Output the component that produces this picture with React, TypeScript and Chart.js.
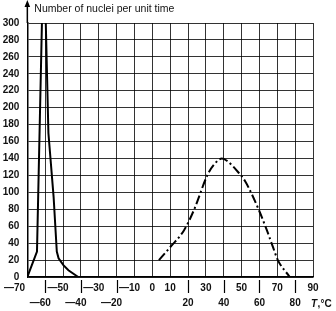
import React, { useEffect, useRef } from 'react';
import { Chart, registerables } from 'chart.js';

Chart.register(...registerables);

// Solid curve (left peak)
const solidT = [-70, -64.6, -60.8, -58.2, -55.3, -53.5, -52.5, -49.8, -47, -41.5];
const solidN = [0, 30, 400, 170, 95, 30, 22, 14, 8, 0];
// Dash-dot curve (right hump)
const dashT = [3.7, 10.3, 17.7, 23.3, 31, 35, 39, 42, 48, 52, 59.3, 64.2, 67.8, 70.3, 77];
const dashN = [20, 36, 55, 79, 121, 134, 140, 137, 124, 113, 81, 55, 34, 20, 0];
// Tick label rows
const row1Ticks = [-70, -50, -30, -10, 0, 10, 30, 50, 70, 90];
const row2Ticks = [-60, -40, -20, 20, 40, 60, 80];
const yMin = 0;
const yMax = 300;
const yStep = 20;
const xMin = -70;
const xMax = 90;
const xStep = 10;
const titleText = 'Number of nuclei per unit time';
const unitText = ',°C';
const unitItalic = 'T';

const FONT = "'Liberation Sans', Arial, sans-serif";

function fmt(v: number): string {
  if (v < 0) {
    const base = '\u2014' + Math.abs(v) + '\u2003';
    return v === -70 ? base + '\u2003  ' : base;
  }
  return String(v);
}

const decorPlugin = {
  id: 'decor',
  afterDraw(chart: any) {
    const ctx = chart.ctx;
    const ys = chart.scales.y;
    const xs = chart.scales.x;
    const ax = xs.getPixelForValue(xMin);
    const top = ys.getPixelForValue(yMax);
    const bottom = ys.getPixelForValue(yMin);
    ctx.save();
    ctx.strokeStyle = '#000';
    ctx.fillStyle = '#000';
    ctx.lineWidth = 1.5;
    ctx.beginPath();
    ctx.moveTo(ax, top);
    ctx.lineTo(ax, 5);
    ctx.stroke();
    ctx.beginPath();
    ctx.moveTo(ax, 0);
    ctx.lineTo(ax - 2.8, 7);
    ctx.lineTo(ax + 2.8, 7);
    ctx.closePath();
    ctx.fill();
    // small separator bars under the axis at the row-2 ticks
    ctx.lineWidth = 1.2;
    row2Ticks.forEach((v) => {
      const px = Math.round(xs.getPixelForValue(v)) + 0.5;
      ctx.beginPath();
      ctx.moveTo(px, bottom + 3);
      ctx.lineTo(px, bottom + 16);
      ctx.stroke();
    });
    ctx.fillStyle = '#111';
    ctx.font = `10.5px ${FONT}`;
    ctx.textBaseline = 'middle';
    ctx.textAlign = 'left';
    ctx.fillText(titleText, ax + 7, 9);
    const ux = xs.getPixelForValue(xMax) - 2;
    ctx.font = `italic bold 10px ${FONT}`;
    ctx.fillText(unitItalic, ux, 304);
    const w = ctx.measureText(unitItalic).width;
    ctx.font = `bold 10px ${FONT}`;
    ctx.fillText(unitText, ux + w + 0.5, 304);
    ctx.restore();
  },
};

export default function App() {
  const ref = useRef<HTMLCanvasElement | null>(null);
  useEffect(() => {
    document.body.style.margin = '0';
    if (!ref.current) return;
    const chart = new Chart(ref.current, {
      type: 'line',
      data: {
        datasets: [
          {
            data: solidT.map((t, i) => ({ x: t, y: solidN[i] })),
            borderColor: '#000',
            borderWidth: 2,
            pointRadius: 0,
            tension: 0,
            fill: false,
          },
          {
            data: dashT.map((t, i) => ({ x: t, y: dashN[i] })),
            borderColor: '#000',
            borderWidth: 2,
            borderDash: [9, 3, 2, 3],
            pointRadius: 0,
            cubicInterpolationMode: 'monotone',
            fill: false,
          },
        ],
      },
      options: {
        animation: false,
        responsive: false,
        layout: { padding: { top: 23, right: 23, left: 0, bottom: 0 } },
        plugins: { legend: { display: false }, tooltip: { enabled: false }, title: { display: false } },
        scales: {
          x: {
            type: 'linear',
            min: xMin,
            max: xMax,
            afterFit: (s: any) => { s.height = 34; },
            ticks: {
              stepSize: xStep,
              autoSkip: false,
              maxRotation: 0,
              minRotation: 0,
              padding: 4,
              color: '#111',
              font: { family: FONT, size: 10, weight: 'bold', lineHeight: '15px' },
              callback: (v: any) => {
                const n = Number(v);
                if (row1Ticks.includes(n)) return [fmt(n), ''];
                if (row2Ticks.includes(n)) return ['', fmt(n)];
                return '';
              },
            },
            grid: {
              color: 'rgba(0,0,0,0.8)',
              lineWidth: 1,
              drawTicks: false,
            },
            border: { color: '#000', width: 1.5 },
          },
          y: {
            min: yMin,
            max: yMax,
            afterFit: (s: any) => { s.width = 26; },
            ticks: {
              stepSize: yStep,
              padding: 8,
              color: '#111',
              font: { family: FONT, size: 10, weight: 'bold' },
            },
            grid: { color: 'rgba(0,0,0,0.8)', lineWidth: 1, drawTicks: false },
            border: { color: '#000', width: 1.5 },
          },
        },
      },
      plugins: [decorPlugin],
    } as any);
    return () => chart.destroy();
  }, []);
  return (
    <div style={{ position: 'fixed', left: 0, top: 0, width: 336, height: 311, background: '#fff' }}>
      <canvas ref={ref} width={336} height={311} style={{ width: 336, height: 311, display: 'block' }} />
    </div>
  );
}
